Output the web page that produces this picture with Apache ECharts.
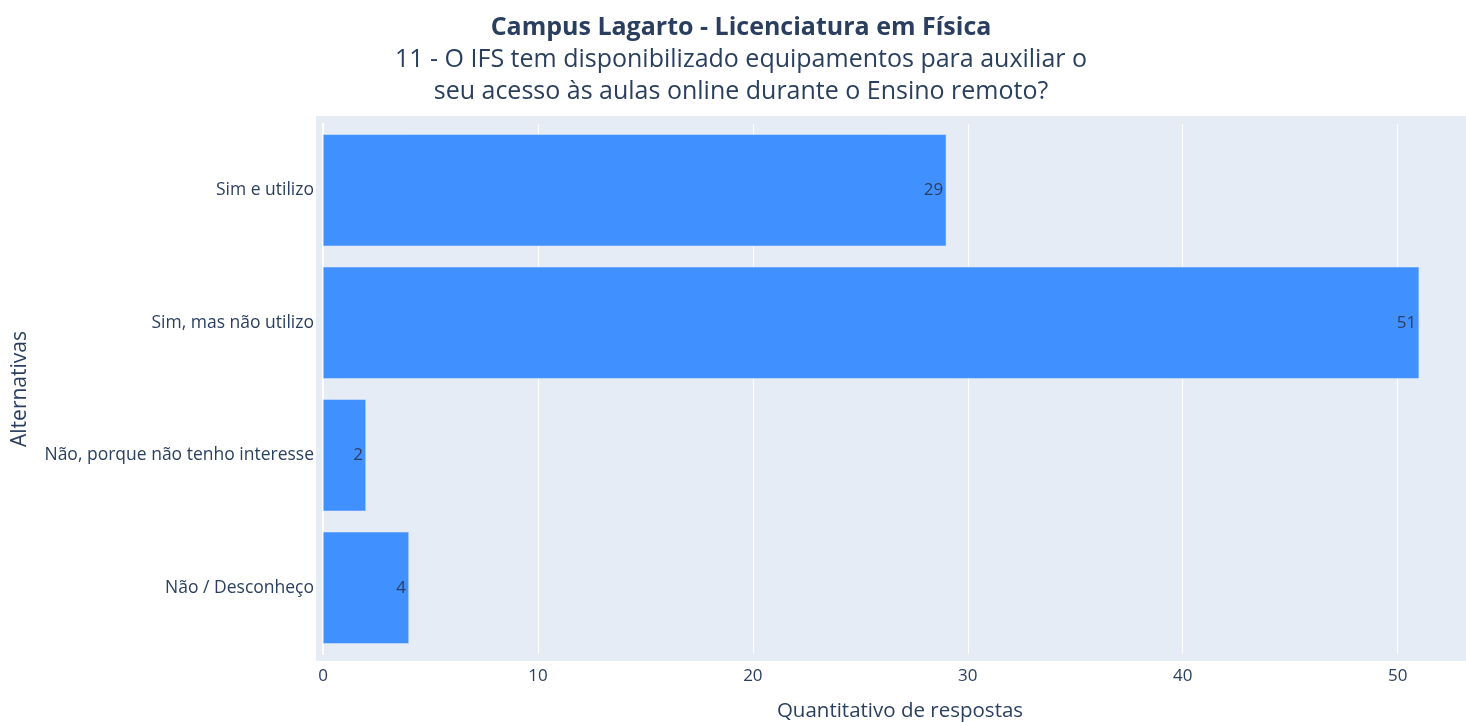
<!DOCTYPE html>
<html>
<head>
<meta charset="utf-8">
<script src="https://cdn.jsdelivr.net/npm/echarts@6/dist/echarts.min.js"></script>
<style>
  html, body { margin: 0; padding: 0; background: #fff; overflow: hidden; }
  #chart { width: 1466px; height: 722px; }
</style>
</head>
<body>
<div id="chart"></div>
<script>
// categorias de cima para baixo
const categories = [
  'Sim e utilizo',
  'Sim, mas não utilizo',
  'Não, porque não tenho interesse',
  'Não / Desconheço'
]
// quantidade de respostas
const values = [29, 51, 2, 4]

const textColor = '#2a3f5f'
const font = 'Open Sans'

const chart = echarts.init(document.getElementById('chart'))
const option = {
  textStyle: { fontFamily: font },
  title: [
    {
      text: 'Campus Lagarto - Licenciatura em Física',
      left: 736,
      top: 6,
      textAlign: 'center',
      textStyle: { fontFamily: font, fontSize: 25, fontWeight: 'bold', color: textColor, lineHeight: 34 }
    },
    {
      text: '11 - O IFS tem disponibilizado equipamentos para auxiliar o\nseu acesso às aulas online durante o Ensino remoto?',
      left: 736,
      top: 39,
      textAlign: 'center',
      textStyle: { fontFamily: font, fontSize: 25, fontWeight: 'normal', color: textColor, lineHeight: 32, align: 'center' }
    }
  ],
  // fundo da área do gráfico (um pouco maior que a grade, como no plotly)
  graphic: [
    {
      type: 'rect',
      z: -10,
      silent: true,
      shape: { x: 316, y: 116, width: 1160, height: 545 },
      style: { fill: '#E5ECF6' }
    }
  ],
  grid: {
    left: 323,
    right: 0,
    top: 124,
    bottom: 68,
    containLabel: false,
    outerBoundsMode: 'none'
  },
  xAxis: {
    type: 'value',
    min: 0,
    max: 53.18,
    interval: 10,
    name: 'Quantitativo de respostas',
    nameLocation: 'middle',
    nameGap: 47,
    nameTextStyle: { fontSize: 20.5, color: textColor, fontFamily: font, padding: [0, 0, 0, 11] },
    axisLine: { show: false },
    axisTick: { show: false },
    axisLabel: { fontSize: 17, color: textColor, margin: 14, showMaxLabel: false, fontFamily: font },
    splitLine: { show: true, lineStyle: { color: '#fff', width: 1 } }
  },
  yAxis: {
    type: 'category',
    data: categories,
    inverse: true,
    name: 'Alternativas',
    nameLocation: 'middle',
    nameGap: 292,
    nameRotate: 90,
    nameTextStyle: { fontSize: 21, color: textColor, fontFamily: font },
    axisLine: { show: true, lineStyle: { color: '#fff', width: 2 } },
    axisTick: { show: false },
    axisLabel: { fontSize: 17.5, color: textColor, margin: 9, fontFamily: font },
    splitLine: { show: false }
  },
  series: [
    {
      type: 'bar',
      data: values,
      barCategoryGap: '15.5%',
      itemStyle: {
        color: '#4190ff',
        borderColor: '#E5ECF6',
        borderWidth: 0.5
      },
      label: {
        show: true,
        position: 'insideRight',
        distance: 3,
        fontSize: 17,
        color: textColor,
        fontFamily: font
      }
    }
  ]
}
chart.setOption(option)
</script>
</body>
</html>
